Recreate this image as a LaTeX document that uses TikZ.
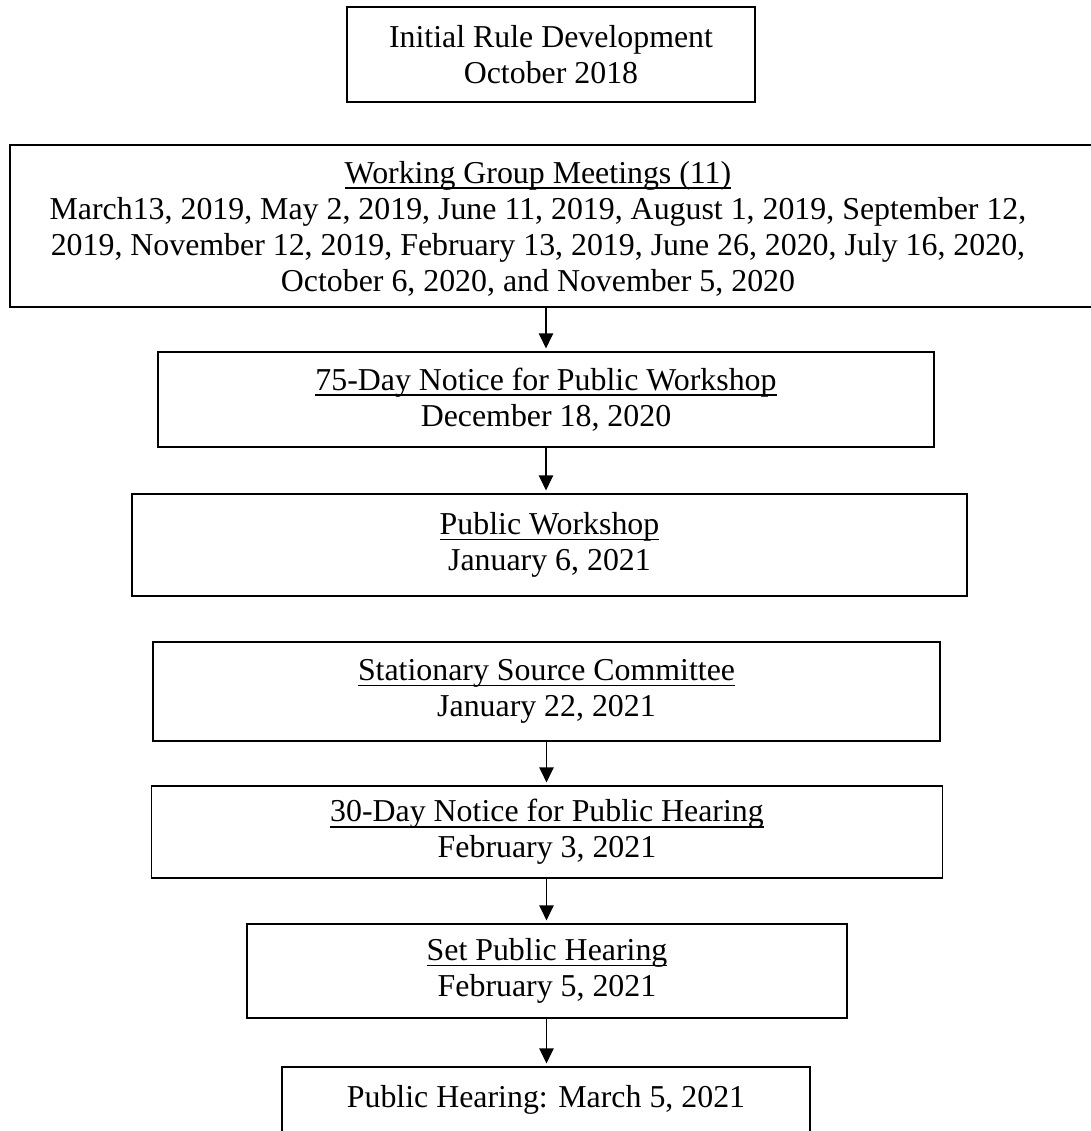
\documentclass[tikz,border=0pt]{standalone}
\usepackage{fontspec}
\setmainfont{Liberation Serif}
\usetikzlibrary{arrows.meta}

\newlength\pxu
\setlength\pxu{0.3766pt}
\newsavebox\ulbox
\newcommand\uln[1]{\sbox\ulbox{#1}\rlap{\rule[-2.2pt]{\wd\ulbox}{0.7pt}}\usebox\ulbox}

\begin{document}
\begin{tikzpicture}[x=0.3766pt, y=-0.3766pt, font=\fontsize{12}{13.6}\selectfont]

      \useasboundingbox (0,0) rectangle (1091,1131);

      \begin{scope}[every node/.style={rectangle, draw, line width=0.75pt, align=center, inner sep=0pt}]
        \node (rule)       at (551,54.5)  [minimum width=408\pxu, minimum height=95\pxu]  {Initial Rule Development\\October 2018};
        \node (wg)         at (555,226)   [minimum width=1090\pxu, minimum height=162\pxu] {};
        \node (notice75)   at (546,399.5) [minimum width=776\pxu, minimum height=95\pxu]  {\uln{75-Day Notice for Public Workshop}\\December 18, 2020};
        \node (workshop)   at (549.5,545) [minimum width=835\pxu, minimum height=102\pxu] {\uln{Public Workshop}\\January 6, 2021};
        \node (ssc)        at (546.5,691.5) [minimum width=787\pxu, minimum height=99\pxu] {\uln{Stationary Source Committee}\\January 22, 2021};
        \node (notice30)   at (547,832)   [minimum width=791\pxu, minimum height=92\pxu]  {\uln{30-Day Notice for Public Hearing}\\February 3, 2021};
        \node (sethearing) at (547,971)   [minimum width=600\pxu, minimum height=94\pxu]  {\uln{Set Public Hearing}\\February 5, 2021};
        \node (hearing)    at (546,1114)  [minimum width=528\pxu, minimum height=94\pxu, text depth=13.5pt] {Public Hearing: March 5, 2021};
      \end{scope}

      \node (wgtext) at (538,229) [align=center] {\uln{Working Group Meetings (11)}\\
        March13, 2019, May 2, 2019, June 11, 2019, August 1, 2019, September 12,\\
        2019, November 12, 2019, February 13, 2019, June 26, 2020, July 16, 2020,\\
        October 6, 2020, and November 5, 2020};

      \begin{scope}[every edge/.style={draw, line width=0.4pt, -{Triangle[length=5.6pt, width=5.4pt]}, shorten >=1pt}]
        \path (notice75.north |- wg.south) edge (notice75.north);
        \path (notice75.south) edge (notice75.south |- workshop.north);
        \path (ssc.south)      edge (ssc.south |- notice30.north);
        \path (ssc.south |- notice30.south) edge (ssc.south |- sethearing.north);
        \path (ssc.south |- sethearing.south) edge (ssc.south |- hearing.north);
      \end{scope}

    \end{tikzpicture}
\end{document}
